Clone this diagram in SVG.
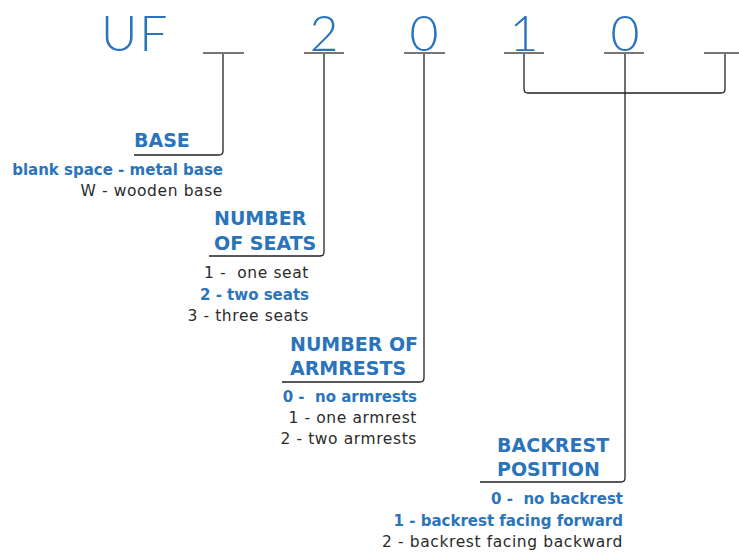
<svg xmlns="http://www.w3.org/2000/svg" width="739" height="553" viewBox="0 0 739 553">
<style>
.code{font-family:"Lato","Open Sans","DejaVu Sans",sans-serif;font-weight:300;font-size:50px;fill:#2a74bb}
.hd{font-family:"DejaVu Sans","Liberation Sans",sans-serif;font-weight:bold;font-size:19px;fill:#2a74bb}
.b{font-family:"DejaVu Sans","Liberation Sans",sans-serif;font-weight:bold;font-size:15px;fill:#2a74bb;text-anchor:end;white-space:pre}
.r{font-family:"DejaVu Sans","Liberation Sans",sans-serif;font-size:15.5px;letter-spacing:0.6px;fill:#2b2b2b;text-anchor:end;white-space:pre}
.us{stroke:#777;stroke-width:2;fill:none}
.ln{stroke:#222;stroke-width:1.3;fill:none}
</style>
<rect width="739" height="553" fill="#fff"/>
<g id="code">
<text class="code" x="101" y="51" letter-spacing="2">UF</text>
<text class="code" x="324" y="51" text-anchor="middle">2</text>
<text class="code" x="424" y="51" text-anchor="middle">0</text>
<text class="code" x="524" y="51" text-anchor="middle">1</text>
<text class="code" x="625" y="51" text-anchor="middle">0</text>
<line class="us" x1="203" y1="53" x2="244" y2="53"/>
<line class="us" x1="304" y1="53" x2="344" y2="53"/>
<line class="us" x1="404" y1="53" x2="445" y2="53"/>
<line class="us" x1="504" y1="53" x2="544" y2="53"/>
<line class="us" x1="604" y1="53" x2="644" y2="53"/>
<line class="us" x1="704" y1="53" x2="739" y2="53"/>
</g>
<g id="connectors">
<path class="ln" d="M223,54 V151 Q223,155 219,155 H134"/>
<path class="ln" d="M324,54 V252 Q324,256 320,256 H209"/>
<path class="ln" d="M424,54 V378 Q424,382 420,382 H282"/>
<path class="ln" d="M625,54 V478 Q625,482 621,482 H480"/>
<path class="ln" d="M524,54 V89 Q524,93 528,93 H721 Q725,93 725,89 V54"/>
</g>
<g id="base">
<text class="hd" x="134" y="147">BASE</text>
<text class="b" x="223" y="175">blank space - metal base</text>
<text class="r" x="223" y="196">W - wooden base</text>
</g>
<g id="seats">
<text class="hd" x="214" y="225">NUMBER</text>
<text class="hd" x="214" y="250">OF SEATS</text>
<text class="r" x="309" y="278">1 -  one seat</text>
<text class="b" x="309" y="300">2 - two seats</text>
<text class="r" x="309" y="321">3 - three seats</text>
</g>
<g id="armrests">
<text class="hd" x="290" y="351">NUMBER OF</text>
<text class="hd" x="290" y="375">ARMRESTS</text>
<text class="b" x="417" y="402">0 -  no armrests</text>
<text class="r" x="417" y="423">1 - one armrest</text>
<text class="r" x="417" y="444">2 - two armrests</text>
</g>
<g id="backrest">
<text class="hd" x="497" y="452">BACKREST</text>
<text class="hd" x="497" y="476">POSITION</text>
<text class="b" x="623" y="504">0 -  no backrest</text>
<text class="b" x="623" y="526">1 - backrest facing forward</text>
<text class="r" x="623" y="547">2 - backrest facing backward</text>
</g>
</svg>
